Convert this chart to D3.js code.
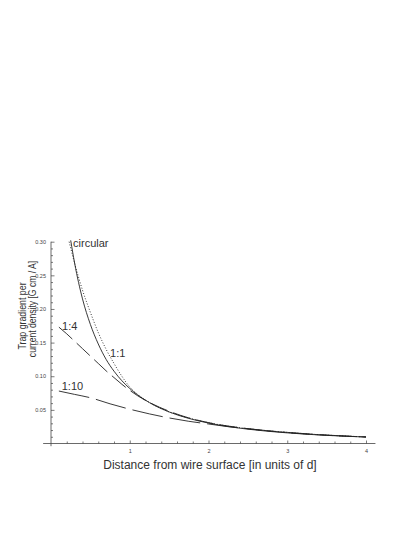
<!DOCTYPE html>
<html>
<head>
<meta charset="utf-8">
<script src="https://cdn.jsdelivr.net/npm/d3@7"></script>
<style>
  body { margin: 0; background: #fff; }
  svg { display: block; font-family: "Liberation Sans", Arial, sans-serif; }
</style>
</head>
<body>
<div id="chart"></div>
<script>
// values
var xsCircular = [0.23, 0.30, 0.40, 0.50, 0.60, 0.70, 0.80, 0.90, 1.00, 1.10, 1.25, 1.50, 1.75, 2.00, 2.50, 3.00, 3.50, 4.00];
var ysCircular = [0.300, 0.268, 0.228, 0.195, 0.165, 0.140, 0.119, 0.100, 0.084, 0.073, 0.061, 0.047, 0.038, 0.031, 0.022, 0.0165, 0.0125, 0.0098];

var xsSquare = [0.25, 0.30, 0.40, 0.50, 0.60, 0.70, 0.80, 0.90, 1.00, 1.10, 1.25, 1.50, 1.75, 2.00, 2.50, 3.00, 3.50, 4.00];
var ysSquare = [0.302, 0.268, 0.215, 0.177, 0.148, 0.125, 0.1075, 0.0933, 0.0818, 0.0722, 0.0608, 0.0469, 0.0373, 0.0304, 0.0213, 0.0158, 0.0121, 0.0096];

var xs14 = [0.10, 0.20, 0.30, 0.40, 0.50, 0.60, 0.70, 0.80, 0.90, 1.00, 1.10, 1.25, 1.50, 1.75, 2.00, 2.50, 3.00, 3.50, 4.00];
var ys14 = [0.173, 0.163, 0.152, 0.141, 0.130, 0.119, 0.108, 0.098, 0.088, 0.079, 0.071, 0.061, 0.048, 0.038, 0.031, 0.022, 0.0162, 0.0123, 0.0097];

var xs110 = [0.10, 0.30, 0.50, 0.75, 1.00, 1.25, 1.50, 1.75, 2.00, 2.25, 2.50, 2.75, 3.00, 3.50, 4.00];
var ys110 = [0.078, 0.073, 0.068, 0.059, 0.051, 0.044, 0.038, 0.033, 0.029, 0.025, 0.022, 0.019, 0.0165, 0.0125, 0.0097];

var xMajor = [1, 2, 3, 4];
var xMinor = [0.2, 0.4, 0.6, 0.8, 1.2, 1.4, 1.6, 1.8, 2.2, 2.4, 2.6, 2.8, 3.2, 3.4, 3.6, 3.8];
var yMajor = [0.05, 0.10, 0.15, 0.20, 0.25, 0.30];
var yMinor = [0.01, 0.02, 0.03, 0.04, 0.06, 0.07, 0.08, 0.09, 0.11, 0.12, 0.13, 0.14,
              0.16, 0.17, 0.18, 0.19, 0.21, 0.22, 0.23, 0.24, 0.26, 0.27, 0.28, 0.29];

var W = 415, H = 537;

var svg = d3.select("#chart").append("svg")
    .attr("width", W)
    .attr("height", H);

var x = d3.scaleLinear().domain([0, 4]).range([51, 366]);
var y = d3.scaleLinear().domain([0, 0.30]).range([443.5, 241.7]);

// axis lines (a little past the ranges, like the original)
svg.append("line")
    .attr("x1", x(-0.1)).attr("x2", x(4.12))
    .attr("y1", y(0)).attr("y2", y(0))
    .attr("stroke", "#444").attr("stroke-width", 0.8);
svg.append("line")
    .attr("x1", x(0)).attr("x2", x(0))
    .attr("y1", y(-0.004)).attr("y2", y(0.30))
    .attr("stroke", "#444").attr("stroke-width", 0.8);

// x ticks
var gx = svg.append("g")
    .attr("transform", "translate(0," + y(0) + ")")
    .call(d3.axisBottom(x).tickValues(xMajor).tickSizeInner(-3).tickSizeOuter(0).tickPadding(6)
        .tickFormat(d3.format("d")));
var gxm = svg.append("g")
    .attr("transform", "translate(0," + y(0) + ")")
    .call(d3.axisBottom(x).tickValues(xMinor).tickSizeInner(-2).tickSizeOuter(0).tickFormat(""));

// y ticks
var gy = svg.append("g")
    .attr("transform", "translate(" + x(0) + ",0)")
    .call(d3.axisLeft(y).tickValues(yMajor).tickSizeInner(-3.5).tickSizeOuter(0).tickPadding(5)
        .tickFormat(d3.format(".2f")));
var gym = svg.append("g")
    .attr("transform", "translate(" + x(0) + ",0)")
    .call(d3.axisLeft(y).tickValues(yMinor).tickSizeInner(-2).tickSizeOuter(0).tickFormat(""));

[gx, gxm, gy, gym].forEach(function (g) {
    g.select(".domain").remove();
    g.selectAll("line").attr("stroke", "#444").attr("stroke-width", 0.7);
    g.selectAll("text").attr("fill", "#444").style("font-size", "5.5px");
});

// curves
var line = d3.line()
    .x(function (d) { return x(d[0]); })
    .y(function (d) { return y(d[1]); })
    .curve(d3.curveMonotoneX);

var series = [
    { xs: xsCircular, ys: ysCircular, dash: "1,1.8", w: 0.9 },
    { xs: xsSquare, ys: ysSquare, dash: null, w: 0.9 },
    { xs: xs14, ys: ys14, dash: "18,6", w: 0.9 },
    { xs: xs110, ys: ys110, dash: "31,7", w: 0.9 }
];

svg.append("g").selectAll("path")
    .data(series)
    .enter()
    .append("path")
    .attr("d", function (s) { return line(d3.zip(s.xs, s.ys)); })
    .attr("fill", "none")
    .attr("stroke", "#222")
    .attr("stroke-width", function (s) { return s.w; })
    .attr("stroke-dasharray", function (s) { return s.dash; });

// curve labels
function label(t, px, py) {
    svg.append("text")
        .attr("x", x(px))
        .attr("y", y(py))
        .attr("fill", "#333")
        .style("font-size", "11px")
        .text(t);
}
label("circular", 0.28, 0.292);
label("1:4", 0.14, 0.168);
label("1:1", 0.75, 0.1285);
label("1:10", 0.136, 0.0795);

// axis titles
svg.append("text")
    .attr("x", 210)
    .attr("y", 469)
    .attr("text-anchor", "middle")
    .attr("fill", "#333")
    .style("font-size", "12px")
    .text("Distance from wire surface [in units of d]");

// y title, two lines, squeezed along the baseline
var yTitle = svg.append("g")
    .attr("transform", "translate(0,0)");
yTitle.append("text")
    .attr("transform", "translate(26,316) rotate(-90) scale(0.8,1)")
    .attr("text-anchor", "middle")
    .attr("fill", "#333")
    .style("font-size", "11px")
    .text("Trap gradient per");
yTitle.append("text")
    .attr("transform", "translate(36,309) rotate(-90) scale(0.78,1)")
    .attr("text-anchor", "middle")
    .attr("fill", "#333")
    .style("font-size", "11px")
    .text("current density  [G cm / A]");
</script>
</body>
</html>
